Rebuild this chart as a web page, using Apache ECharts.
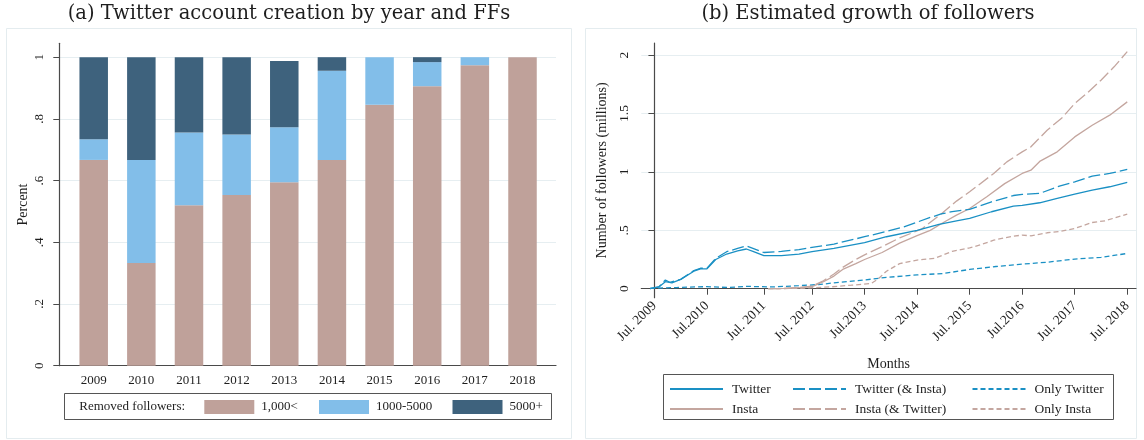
<!DOCTYPE html>
<html><head><meta charset="utf-8">
<script src="https://cdn.jsdelivr.net/npm/echarts@6/dist/echarts.min.js"></script>
<style>html,body{margin:0;padding:0;background:#fff}#c{width:1144px;height:440px}</style>
</head><body><div id="c"></div>
<script>
// ---------- Panel (a) data ----------
const years = [2009, 2010, 2011, 2012, 2013, 2014, 2015, 2016, 2017, 2018];
const yearLabels = ['2009', '2010', '2011', '2012', '2013', '2014', '2015', '2016', '2017', '2018'];
const under1000 = [0.667, 0.333, 0.520, 0.553, 0.595, 0.667, 0.846, 0.906, 0.974, 1.000];
const from1000to5000 = [0.067, 0.334, 0.236, 0.196, 0.178, 0.289, 0.154, 0.078, 0.026, 0];
const over5000 = [0.266, 0.333, 0.244, 0.251, 0.215, 0.044, 0, 0.016, 0, 0];
const pctTicks = [0, 0.2, 0.4, 0.6, 0.8, 1];
const pctTickLabels = ['0', '.2', '.4', '.6', '.8', '1'];

// ---------- Panel (b) data (months since Jul. 2009, millions) ----------
const monthTicks = [0, 12, 25, 36, 48, 60, 72, 84, 96, 108];
const monthTickLabels = ['Jul. 2009', 'Jul.2010', 'Jul. 2011', 'Jul. 2012', 'Jul.2013', 'Jul. 2014', 'Jul. 2015', 'Jul.2016', 'Jul. 2017', 'Jul. 2018'];
const follTicks = [0, 0.5, 1, 1.5, 2];
const follTickLabels = ['0', '.5', '1', '1.5', '2'];

const twitterMonths = [-1, 1, 2.5, 4, 6, 9, 10.5, 12, 14, 16.5, 19, 21, 22.5, 25, 29, 33, 36, 41, 48, 53, 60, 65, 69, 72, 77, 82, 84, 88, 92, 96, 100, 104, 108];
const twitterVals = [0, 0.015, 0.06, 0.05, 0.08, 0.15, 0.17, 0.17, 0.25, 0.297, 0.323, 0.34, 0.32, 0.283, 0.283, 0.297, 0.317, 0.345, 0.394, 0.445, 0.50, 0.55, 0.58, 0.602, 0.659, 0.707, 0.713, 0.736, 0.773, 0.81, 0.844, 0.873, 0.91];

const twInstaMonths = [-1, 1, 2.5, 3.5, 6, 9, 10.5, 12, 14, 16.5, 19, 21, 22.5, 25, 29, 33, 36, 41, 48, 53, 57, 60, 63, 65.5, 68, 72, 77, 82, 84, 88, 92.7, 96, 100, 104, 108];
const twInstaVals = [0, 0.015, 0.075, 0.055, 0.08, 0.155, 0.175, 0.175, 0.26, 0.317, 0.345, 0.366, 0.345, 0.31, 0.32, 0.335, 0.354, 0.382, 0.445, 0.49, 0.53, 0.57, 0.61, 0.64, 0.66, 0.68, 0.744, 0.798, 0.807, 0.816, 0.881, 0.915, 0.964, 0.987, 1.021];

const onlyTwMonths = [-1, 5, 12, 17, 21, 27, 33, 38, 41, 48, 53, 60, 66, 72, 78, 84, 90, 96, 102, 108];
const onlyTwVals = [0.003, 0.01, 0.018, 0.01, 0.02, 0.015, 0.026, 0.037, 0.05, 0.075, 0.097, 0.118, 0.13, 0.165, 0.19, 0.21, 0.228, 0.254, 0.268, 0.302];

const instaMonths = [26, 30, 33, 36, 38.6, 41, 43, 46, 48, 52, 56, 60, 63, 66, 69, 72, 76, 80, 84, 86, 88, 92, 96, 100, 104, 108];
const instaVals = [0, 0.002, 0.008, 0.018, 0.06, 0.108, 0.165, 0.215, 0.25, 0.31, 0.39, 0.455, 0.5, 0.567, 0.63, 0.687, 0.79, 0.9, 0.987, 1.015, 1.09, 1.172, 1.30, 1.40, 1.486, 1.60];

const instaTwMonths = [26, 30, 33, 36, 38.6, 41, 43, 46, 48, 52, 56, 61, 65.5, 69, 72, 77.5, 80.5, 84, 86, 89.7, 93, 96, 99, 102, 105, 108];
const instaTwVals = [0, 0.002, 0.01, 0.022, 0.068, 0.126, 0.183, 0.25, 0.29, 0.36, 0.435, 0.51, 0.64, 0.75, 0.83, 0.987, 1.086, 1.172, 1.215, 1.357, 1.46, 1.585, 1.68, 1.785, 1.9, 2.03];

const onlyInstaMonths = [26, 33, 40, 45, 49.5, 51, 53, 56, 60, 64, 68, 72, 74.4, 77.5, 82, 84, 86, 89.7, 92.7, 96, 100, 103, 108];
const onlyInstaVals = [0, 0.003, 0.015, 0.03, 0.045, 0.08, 0.15, 0.215, 0.245, 0.26, 0.32, 0.35, 0.375, 0.416, 0.45, 0.459, 0.453, 0.479, 0.49, 0.516, 0.567, 0.582, 0.639];

// ---------- styling ----------
const SERIF = "'Liberation Serif', 'DejaVu Serif', serif";
const TITLE_FONT = "'DejaVu Serif', serif";
const TXT = '#1e1e1e';
const AXIS = '#4a4a4a';
const GRIDC = '#e6eef1';
const C_BROWN = '#bfa19a', C_LIGHT = '#82bee9', C_DARK = '#3e627d';
const C_TW = '#1a90c4', C_IN = '#c4a69f';

function lookup(ticks, labels) {
  return v => { for (let i = 0; i < ticks.length; i++) if (Math.abs(ticks[i] - v) < 1e-6) return labels[i]; return ''; };
}
const zip = (xs, ys) => xs.map((x, i) => [x, ys[i]]);
// bars: value first so that the y dimension is the stacked one
const barRows = (xs, ys) => xs.map((x, i) => [ys[i], x]);

const chart = echarts.init(document.getElementById('c'), null, { renderer: 'canvas' });

const barBase = { type: 'bar', xAxisIndex: 0, yAxisIndex: 0, stack: 'a', barWidth: 28.5, encode: { x: 1, y: 0 } };
const lineBase = { type: 'line', xAxisIndex: 1, yAxisIndex: 1, symbol: 'none', showSymbol: false, smooth: false };

const legText = (size, padLeft) => ({ fontFamily: SERIF, fontSize: size, color: TXT, padding: [0, 0, 0, padLeft] });
const lineLeg = (name, left, top) => ({ data: [name], left: left, top: top, padding: 0, itemWidth: 53, itemHeight: 14, itemStyle: { opacity: 0 }, textStyle: legText(13.5, 4), selectedMode: false });
const barLeg = (name, left) => ({ data: [name], left: left, top: 400, padding: 0, icon: 'rect', itemWidth: 50, itemHeight: 14, textStyle: legText(13, 2), selectedMode: false });

const option = {
  animation: false,
  backgroundColor: '#ffffff',
  grid: [
    { left: 59.3, right: 588, top: 43.3, bottom: 74.3, containLabel: false, outerBoundsMode: 'none' },
    { left: 641.3, right: 8, top: 43, bottom: 142.3, containLabel: false, outerBoundsMode: 'none' }
  ],
  xAxis: [
    {
      gridIndex: 0, type: 'value', min: 2008.278, max: 2018.703,
      axisLine: { show: true, lineStyle: { color: AXIS, width: 1.2 } },
      axisTick: { show: false },
      splitLine: { show: false },
      axisLabel: { customValues: years, formatter: lookup(years, yearLabels), margin: 8, fontFamily: SERIF, fontSize: 13, color: TXT }
    },
    {
      gridIndex: 1, type: 'value', min: -3, max: 110,
      axisLine: { show: true, lineStyle: { color: AXIS, width: 1.2 } },
      axisTick: { show: true, customValues: monthTicks, length: 6, lineStyle: { color: AXIS } },
      splitLine: { show: false },
      axisLabel: { customValues: monthTicks, formatter: lookup(monthTicks, monthTickLabels), rotate: 45, margin: 6, fontFamily: SERIF, fontSize: 13.5, color: TXT },
      name: 'Months', nameLocation: 'middle', nameGap: 60, nameTextStyle: { fontFamily: SERIF, fontSize: 14, color: TXT }
    }
  ],
  yAxis: [
    {
      gridIndex: 0, type: 'value', min: 0, max: 1.045,
      axisLine: { show: true, lineStyle: { color: AXIS, width: 1.2 } },
      axisTick: { show: true, customValues: pctTicks, length: 6, lineStyle: { color: AXIS } },
      splitLine: { show: true, lineStyle: { color: GRIDC, width: 1 } },
      axisLabel: { customValues: pctTicks, formatter: lookup(pctTicks, pctTickLabels), rotate: 90, margin: 13, fontFamily: SERIF, fontSize: 13, color: TXT },
      name: 'Percent', nameLocation: 'middle', nameGap: 29, nameRotate: 90, nameTextStyle: { fontFamily: SERIF, fontSize: 14, color: TXT }
    },
    {
      gridIndex: 1, type: 'value', min: -0.077, max: 2.104,
      axisLine: { show: true, lineStyle: { color: AXIS, width: 1.2 } },
      axisTick: { show: true, customValues: follTicks, length: 6, lineStyle: { color: AXIS } },
      splitLine: { show: true, lineStyle: { color: GRIDC, width: 1 } },
      axisLabel: { customValues: follTicks, formatter: lookup(follTicks, follTickLabels), rotate: 90, margin: 10, fontFamily: SERIF, fontSize: 13.5, color: TXT },
      name: 'Number of followers (millions)', nameLocation: 'middle', nameGap: 32, nameRotate: 90, nameTextStyle: { fontFamily: SERIF, fontSize: 14, color: TXT }
    }
  ],
  legend: [
    barLeg('1,000<', 204.3),
    barLeg('1000-5000', 319),
    barLeg('5000+', 452.5),
    lineLeg('Twitter', 669, 382),
    lineLeg('Twitter (& Insta)', 792, 382),
    lineLeg('Only Twitter', 971.5, 382),
    lineLeg('Insta', 669, 402),
    lineLeg('Insta (& Twitter)', 792, 402),
    lineLeg('Only Insta', 971.5, 402)
  ],
  series: [
    Object.assign({}, barBase, { name: '1,000<', data: barRows(years, under1000), itemStyle: { color: C_BROWN } }),
    Object.assign({}, barBase, { name: '1000-5000', data: barRows(years, from1000to5000), itemStyle: { color: C_LIGHT } }),
    Object.assign({}, barBase, { name: '5000+', data: barRows(years, over5000), itemStyle: { color: C_DARK } }),
    Object.assign({}, lineBase, { name: 'Only Twitter', data: zip(onlyTwMonths, onlyTwVals), lineStyle: { color: C_TW, width: 1.3, type: [5, 3] }, itemStyle: { color: C_TW } }),
    Object.assign({}, lineBase, { name: 'Only Insta', data: zip(onlyInstaMonths, onlyInstaVals), lineStyle: { color: C_IN, width: 1.3, type: [5, 3] }, itemStyle: { color: C_IN } }),
    Object.assign({}, lineBase, { name: 'Insta', data: zip(instaMonths, instaVals), lineStyle: { color: C_IN, width: 1.3, type: 'solid' }, itemStyle: { color: C_IN } }),
    Object.assign({}, lineBase, { name: 'Insta (& Twitter)', data: zip(instaTwMonths, instaTwVals), lineStyle: { color: C_IN, width: 1.3, type: [12, 4] }, itemStyle: { color: C_IN } }),
    Object.assign({}, lineBase, { name: 'Twitter (& Insta)', data: zip(twInstaMonths, twInstaVals), lineStyle: { color: C_TW, width: 1.3, type: [12, 4] }, itemStyle: { color: C_TW } }),
    Object.assign({}, lineBase, { name: 'Twitter', data: zip(twitterMonths, twitterVals), lineStyle: { color: C_TW, width: 1.3, type: 'solid' }, itemStyle: { color: C_TW } })
  ],
  graphic: [
    { type: 'rect', shape: { x: 6.5, y: 28.5, width: 565, height: 410 }, style: { fill: 'none', stroke: '#e4ecef', lineWidth: 1 }, silent: true, z: -10 },
    { type: 'rect', shape: { x: 585.5, y: 28.5, width: 551, height: 410 }, style: { fill: 'none', stroke: '#e4ecef', lineWidth: 1 }, silent: true, z: -10 },
    { type: 'text', x: 289, y: 14, style: { text: '(a) Twitter account creation by year and FFs', fontFamily: TITLE_FONT, fontSize: 19.5, fill: TXT, align: 'center', verticalAlign: 'middle' }, silent: true },
    { type: 'text', x: 868, y: 14, style: { text: '(b) Estimated growth of followers', fontFamily: TITLE_FONT, fontSize: 19.5, fill: TXT, align: 'center', verticalAlign: 'middle' }, silent: true },
    { type: 'rect', shape: { x: 64.5, y: 393.5, width: 487, height: 26 }, style: { fill: 'none', stroke: '#555555', lineWidth: 1 }, silent: true },
    { type: 'text', x: 79.3, y: 407, style: { text: 'Removed followers:', fontFamily: SERIF, fontSize: 13, fill: TXT, align: 'left', verticalAlign: 'middle' }, silent: true },
    { type: 'rect', shape: { x: 663.5, y: 374.5, width: 450, height: 45 }, style: { fill: 'none', stroke: '#555555', lineWidth: 1 }, silent: true }
  ]
};
chart.setOption(option);
</script>
</body></html>
